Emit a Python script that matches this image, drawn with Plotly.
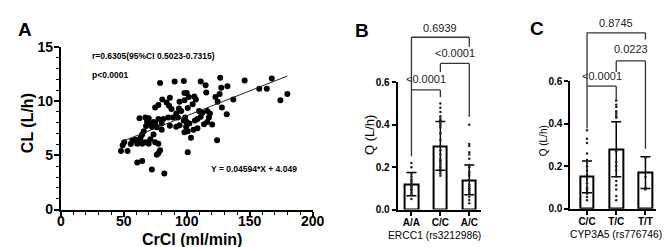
import plotly.graph_objects as go

W, H = 671, 247

# ---------------- Panel A data ----------------
crcl = [78.8, 90.4, 97.7, 111.1, 115.0, 115.5, 98.2, 100.0, 86.6, 80.6,
        84.0, 77.5, 74.9, 86.0, 87.9, 94.3, 98.2, 101.6, 106.0, 107.2,
        104.7, 100.8, 93.8, 95.6, 91.7, 93.0, 89.1, 85.3, 81.4, 80.1,
        77.5, 74.9, 73.6, 69.8, 67.2, 68.5, 71.1, 62.5, 67.7, 72.3,
        76.2, 80.1, 86.6, 91.7, 94.3, 97.7, 98.7, 100.0, 102.1, 99.5,
        100.8, 105.4, 106.5, 108.5, 111.1, 112.4, 109.8, 116.3, 117.6, 113.7,
        116.3, 120.2, 108.5, 103.4, 98.2, 65.9, 64.6, 63.3, 63.3, 62.0,
        60.7, 59.4, 56.8, 55.6, 50.4, 49.1, 53.0, 47.8, 64.6, 67.2,
        69.8, 71.1, 73.6, 74.9, 77.5, 78.8, 77.5, 76.2, 100.8, 64.6,
        60.7, 72.3, 82.2, 126.6, 127.4, 132.3, 146.0, 167.5, 157.6, 163.6,
        179.9, 174.4, 137.0, 122.8, 126.1, 124.6, 127.9, 131.8, 118.4, 124.1]
cl = [11.66, 11.8, 11.86, 11.8, 11.46, 10.8, 10.74, 10.74, 10.31, 10.14,
      9.88, 9.65, 9.42, 9.57, 9.28, 9.94, 10.08, 10.37, 10.43, 10.14,
      9.71, 9.36, 9.31, 9.08, 8.85, 8.50, 8.50, 8.50, 8.36, 7.93,
      8.36, 7.98, 8.07, 8.42, 8.50, 8.13, 7.93, 8.42, 7.70, 7.64,
      7.58, 7.35, 7.73, 7.64, 7.78, 8.21, 8.50, 8.07, 7.93, 7.64,
      7.21, 7.35, 8.21, 8.36, 8.56, 8.93, 9.08, 9.08, 8.50, 7.87,
      8.07, 7.84, 7.50, 6.63, 7.12, 7.21, 6.92, 6.63, 6.35, 6.20,
      6.06, 6.43, 6.35, 6.05, 6.20, 5.92, 5.40, 5.40, 6.06, 6.20,
      6.06, 6.49, 6.92, 6.20, 6.06, 5.48, 5.20, 5.05, 5.28, 4.48,
      4.34, 3.70, 3.33, 12.15, 11.23, 11.38, 11.89, 12.09, 11.14, 11.14,
      10.66, 10.08, 10.14, 10.37, 10.66, 9.94, 9.42, 8.79, 8.85, 6.40]
slope, intercept = 0.04594, 4.049
r_text = "r=0.6305(95%CI 0.5023-0.7315)"
p_text = "p&lt;0.0001"

# ---------------- Panel B data ----------------
ercc1_cats = ["A/A", "C/C", "A/C"]
ercc1_mean = [0.12, 0.30, 0.14]
ercc1_sd = [0.055, 0.115, 0.07]
ercc1_aa = [0.22, 0.20, 0.17, 0.155, 0.14, 0.13, 0.12, 0.115, 0.11, 0.10,
            0.095, 0.09, 0.08, 0.07, 0.05]
ercc1_cc = [0.50, 0.48, 0.46, 0.44, 0.43, 0.42, 0.42, 0.41, 0.40, 0.39,
            0.36, 0.33, 0.30, 0.28, 0.26, 0.24, 0.23, 0.23, 0.22, 0.21,
            0.20, 0.19, 0.18, 0.17, 0.16]
ercc1_ac = [0.40, 0.31, 0.30, 0.27, 0.26, 0.24, 0.21, 0.20, 0.18, 0.17,
            0.16, 0.14, 0.12, 0.11, 0.10, 0.10, 0.09, 0.09, 0.08, 0.075,
            0.06, 0.045, 0.03]
ercc1_p = ["&lt;0.0001", "&lt;0.0001", "0.6939"]  # 0-1, 1-2, 0-2

# ---------------- Panel C data ----------------
cyp_cats = ["C/C", "T/C", "T/T"]
cyp_mean = [0.15, 0.28, 0.17]
cyp_sd = [0.075, 0.13, 0.075]
cyp_cc = [0.37, 0.33, 0.31, 0.26, 0.23, 0.22, 0.20, 0.18, 0.16, 0.14,
          0.12, 0.10, 0.095, 0.09, 0.085, 0.07, 0.055, 0.04]
cyp_tc = [0.51, 0.49, 0.48, 0.46, 0.45, 0.44, 0.43, 0.43, 0.27, 0.22,
          0.20, 0.18, 0.15, 0.13, 0.11, 0.09, 0.06, 0.04]
cyp_tt = [0.24, 0.15, 0.10, 0.09]
cyp_p = ["&lt;0.0001", "0.0223", "0.8745"]

FONT = "Arial, Liberation Sans, sans-serif"


def PX(x):
    return x / W


def PY(y):
    return 1 - y / H


fig = go.Figure()

# Panel A
fig.add_trace(go.Scatter(x=crcl, y=cl, mode="markers",
                         marker=dict(size=6, color="black"),
                         xaxis="x", yaxis="y", showlegend=False))
x0, x1 = min(crcl), max(crcl)
fig.add_trace(go.Scatter(x=[x0, x1], y=[slope * x0 + intercept, slope * x1 + intercept],
                         mode="lines", line=dict(color="#222", width=1),
                         xaxis="x", yaxis="y", showlegend=False))

# Panels B, C
for ax, means, sds, groups in [("2", ercc1_mean, ercc1_sd, [ercc1_aa, ercc1_cc, ercc1_ac]),
                               ("3", cyp_mean, cyp_sd, [cyp_cc, cyp_tc, cyp_tt])]:
    idx = list(range(len(means)))
    fig.add_trace(go.Bar(x=idx, y=means, width=0.46,
                         marker=dict(color="white", line=dict(color="black", width=2)),
                         error_y=dict(type="data", array=sds, visible=True, color="black",
                                      thickness=1.5, width=5),
                         xaxis="x" + ax, yaxis="y" + ax, showlegend=False))
    for i, vals in enumerate(groups):
        fig.add_trace(go.Scatter(x=[i] * len(vals), y=vals, mode="markers",
                                 marker=dict(size=2.5, color="#222"),
                                 xaxis="x" + ax, yaxis="y" + ax, showlegend=False))

tickfont_big = dict(family=FONT, size=14, color="black", weight="bold")
tickfont_small = dict(family=FONT, size=10, color="black", weight="bold")

common = dict(showline=True, linewidth=2, linecolor="black", showgrid=False,
              zeroline=False, ticks="outside", tickcolor="black")

fig.update_layout(
    width=W, height=H, margin=dict(l=0, r=0, t=0, b=0),
    plot_bgcolor="white", paper_bgcolor="white", showlegend=False, bargap=0,
    xaxis=dict(domain=[PX(50), PX(308)], range=[0, 200], dtick=50, tick0=0,
               ticklen=5, tickwidth=2, tickfont=tickfont_big, anchor="y",
               ticklabelstandoff=-7,
               minor=dict(ticks="outside", ticklen=3, tickwidth=1, dtick=10,
                          tickcolor="black"), **common),
    yaxis=dict(domain=[PY(207), PY(33)], range=[0, 15], dtick=5, tick0=0,
               ticklen=5, tickwidth=2, tickfont=tickfont_big, anchor="x",
               ticklabelstandoff=-2,
               minor=dict(ticks="outside", ticklen=3, tickwidth=1, dtick=1,
                          tickcolor="black"), **common),
    xaxis2=dict(domain=[PX(395), PX(480)], range=[-0.48, 2.39], tickvals=[0, 1, 2],
                ticktext=ercc1_cats, ticklen=4, tickwidth=1.5, tickfont=tickfont_small,
                ticklabelstandoff=-2, anchor="y2", **common),
    yaxis2=dict(domain=[PY(207), PY(71)], range=[0, 0.6], tickvals=[0, 0.2, 0.4, 0.6],
                tickformat=".1f", ticklen=4, tickwidth=1.5, tickfont=tickfont_small,
                anchor="x2", **common),
    xaxis3=dict(domain=[PX(572), PX(660)], range=[-0.57, 2.37], tickvals=[0, 1, 2],
                ticktext=cyp_cats, ticklen=4, tickwidth=1.5, tickfont=tickfont_small,
                ticklabelstandoff=-2, anchor="y3", **common),
    yaxis3=dict(domain=[PY(206), PY(70)], range=[0, 0.6], tickvals=[0, 0.2, 0.4, 0.6],
                tickformat=".1f", ticklen=4, tickwidth=1.5, tickfont=tickfont_small,
                anchor="x3", **common),
)

ann = []


def text(x, y, s, size, bold=False, angle=0, xanchor="center", xref="paper", color="black"):
    ann.append(dict(x=x, y=y, xref=xref, yref="paper", text=s, showarrow=False,
                    textangle=angle, xanchor=xanchor, yanchor="middle",
                    font=dict(family=FONT, size=size, color=color,
                              weight="bold" if bold else "normal")))


text(PX(13), PY(14), "A", 19, True)
text(PX(359), PY(16), "B", 19, True)
text(PX(538), PY(13), "C", 19, True)
text(PX(16), PY(115), "CL (L/h)", 16, True, -90)
text(PX(184), PY(239), "CrCl (ml/min)", 16, True)
text(PX(80), PY(43), r_text, 8.5, True, xanchor="left")
text(PX(80), PY(63), p_text, 8.5, True, xanchor="left")
text(PX(202), PY(164), "Y = %.5g*X + %.4g" % (slope, intercept), 8.5, True, xanchor="left")
text(PX(367), PY(127), "Q (L/h)", 13, False, -90)
text(PX(433), PY(235), "ERCC1 (rs3212986)", 10.3)
text(PX(619), PY(234), "CYP3A5 (rs776746)", 10.3)
text(PX(544), PY(134), "Q (L/h)", 10, False, -90)

shapes = []


def vline(xref, x, ya, yb):
    shapes.append(dict(type="line", xref=xref, yref="paper", x0=x, x1=x,
                       y0=PY(ya), y1=PY(yb), line=dict(color="#333", width=1.3)))


def bracket(xref, i, j, yh, left_bottom, right_bottom, label, label_y):
    shapes.append(dict(type="line", xref=xref, yref="paper", x0=i, x1=j,
                       y0=PY(yh), y1=PY(yh), line=dict(color="#333", width=1.3)))
    vline(xref, i, yh, left_bottom)
    vline(xref, j, yh, right_bottom)
    text((i + j) / 2, PY(label_y), label, 11, xref=xref, color="#222")


bracket("x2", 0, 1, 79, 150, 87, ercc1_p[0], 67)
bracket("x2", 1, 2, 50.7, 60, 108, ercc1_p[1], 40)
bracket("x2", 0, 2, 22.7, 79, 33, ercc1_p[2], 12.5)

bracket("x3", 0, 1, 75, 120, 92, cyp_p[0], 64)
bracket("x3", 1, 2, 48, 60, 142, cyp_p[1], 35)
bracket("x3", 0, 2, 18, 75, 25, cyp_p[2], 7)

fig.update_layout(annotations=ann, shapes=shapes)
fig.write_html("out.html")
